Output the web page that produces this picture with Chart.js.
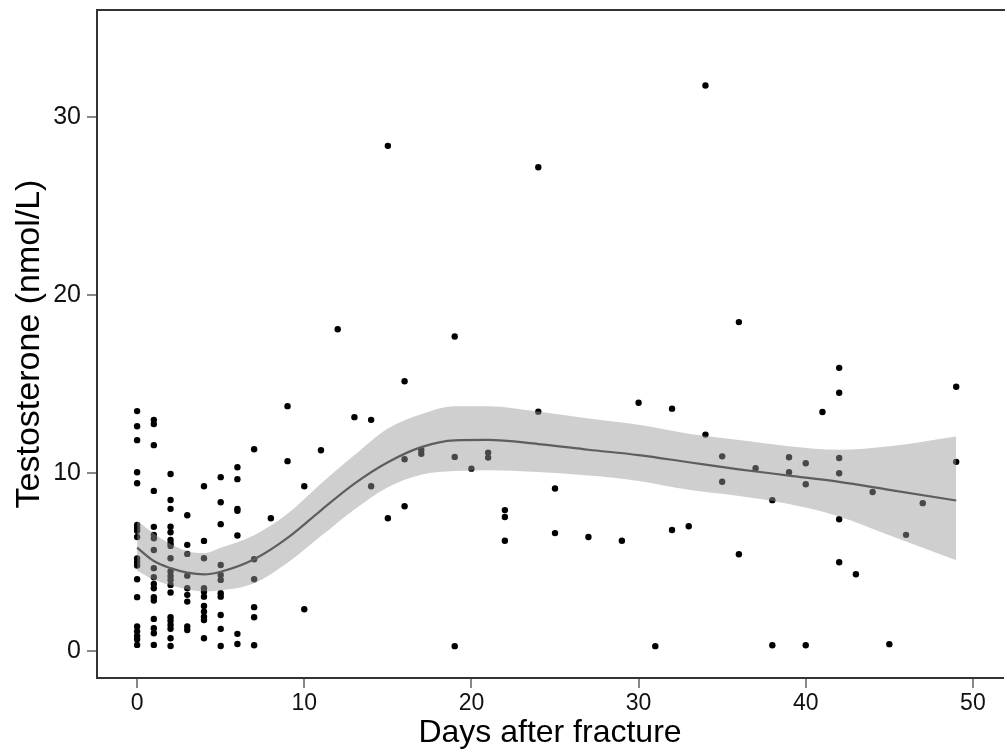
<!DOCTYPE html>
<html>
<head>
<meta charset="utf-8">
<script src="https://cdn.jsdelivr.net/npm/chart.js@4/dist/chart.umd.min.js"></script>
<style>
  html, body { margin: 0; padding: 0; background: #fff; }
  #chart { display: block; }
</style>
</head>
<body>
<canvas id="chart" width="1007" height="753"></canvas>
<script>
'use strict';

// observed values, one list of testosterone levels per day
const days = [0, 1, 2, 3, 4, 5, 6, 7, 8, 9, 10, 11, 12, 13, 14, 15, 16, 17,
  19, 20, 21, 22, 24, 25, 27, 29, 30, 31, 32, 33, 34, 35, 36, 37, 38, 39, 40, 41, 42, 43, 44, 45, 46, 47, 49];
const levels = [
  [13.47, 12.62, 11.84, 10.04, 9.42, 7.08, 6.9, 6.75, 6.4, 5.2, 5.0, 4.8, 4.03, 3.02, 1.37, 1.1, 0.84, 0.65, 0.34],
  [12.98, 12.74, 11.56, 8.99, 6.97, 6.52, 6.33, 5.67, 4.65, 4.14, 3.76, 3.52, 3.02, 2.83, 1.8, 1.28, 0.99, 0.34],
  [9.94, 8.48, 7.98, 6.98, 6.67, 6.24, 6.05, 5.9, 5.21, 4.46, 4.21, 3.99, 3.71, 3.28, 1.89, 1.7, 1.46, 1.24, 0.71, 0.28],
  [7.62, 5.96, 5.45, 4.23, 3.52, 3.15, 2.77, 1.37, 1.18],
  [9.25, 6.18, 5.21, 3.52, 3.33, 3.05, 2.53, 2.21, 1.93, 1.74, 0.71],
  [9.76, 8.35, 7.12, 4.83, 4.27, 3.99, 3.24, 3.05, 2.02, 1.24, 0.28],
  [10.32, 9.65, 7.98, 7.87, 6.48, 0.96, 0.39],
  [11.33, 5.15, 4.03, 2.46, 1.89, 0.32],
  [7.45],
  [13.75, 10.66],
  [9.25, 2.34],
  [11.27],
  [18.07],
  [13.13],
  [12.98, 9.25],
  [28.37, 7.45],
  [15.15, 10.77, 8.13],
  [11.29, 11.07],
  [17.66, 10.9, 0.27],
  [10.24],
  [11.14, 10.86],
  [7.91, 7.52, 6.19],
  [27.17, 13.44],
  [9.12, 6.62],
  [6.4],
  [6.19],
  [13.94],
  [0.27],
  [13.61, 6.79],
  [7.0],
  [31.76, 12.15],
  [10.93, 9.5],
  [18.47, 5.43],
  [10.26],
  [8.47, 0.32],
  [10.88, 10.04],
  [10.54, 9.36, 0.32],
  [13.42],
  [15.9, 14.5, 10.84, 9.98, 7.4, 4.98],
  [4.31],
  [8.93],
  [0.38],
  [6.52],
  [8.3],
  [14.84, 10.62]
];

// smoother and its confidence band
const fitDays  = [0, 1, 2, 3, 4, 5, 7, 9, 11, 13, 15, 17, 19, 21, 24, 27, 30, 33, 36, 39, 42, 45, 49];
const fitLine  = [5.8, 5.05, 4.65, 4.4, 4.3, 4.45, 5.15, 6.35, 7.9, 9.4, 10.6, 11.45, 11.83, 11.85, 11.62, 11.3, 11.0, 10.6, 10.2, 9.85, 9.5, 9.05, 8.45];
const fitUpper = [7.3, 6.6, 6.0, 5.6, 5.5, 5.8, 6.5, 7.7, 9.4, 11.0, 12.5, 13.3, 13.75, 13.75, 13.45, 13.05, 12.7, 12.2, 11.85, 11.5, 11.3, 11.5, 12.05];
const fitLower = [4.5, 4.0, 3.7, 3.45, 3.35, 3.4, 3.8, 4.95, 6.45, 7.95, 9.2, 9.9, 10.1, 10.15, 10.05, 9.85, 9.55, 9.05, 8.7, 8.25, 7.55, 6.5, 5.1];

const xTicks = [0, 10, 20, 30, 40, 50];
const yTicks = [0, 10, 20, 30];

let points = [];
days.forEach(function(d, i){
  levels[i].forEach(function(v){ points.push({x: d, y: v}); });
});
function pairs(ys){ return fitDays.map(function(d, i){ return {x: d, y: ys[i]}; }); }

const FONT = '"Liberation Sans", Arial, sans-serif';

// top edge of the panel box
const frame = {
  id: 'frame',
  afterDraw: function(chart){
    const a = chart.chartArea, ctx = chart.ctx;
    ctx.save();
    ctx.strokeStyle = '#333';
    ctx.lineWidth = 2;
    ctx.beginPath();
    ctx.moveTo(a.left, a.top);
    ctx.lineTo(a.right + 2, a.top);
    ctx.stroke();
    ctx.restore();
  }
};

new Chart(document.getElementById('chart'), {
  type: 'scatter',
  data: {
    datasets: [
      {
        type: 'line', data: pairs(fitLine), order: 1,
        borderColor: '#5e5e5e', borderWidth: 2.2, pointRadius: 0,
        cubicInterpolationMode: 'monotone', fill: false
      },
      {
        type: 'line', data: pairs(fitUpper), order: 2,
        borderWidth: 0, borderColor: 'rgba(0,0,0,0)', pointRadius: 0,
        cubicInterpolationMode: 'monotone',
        backgroundColor: 'rgba(153,153,153,0.47)', fill: '+1'
      },
      {
        type: 'line', data: pairs(fitLower), order: 3,
        borderWidth: 0, borderColor: 'rgba(0,0,0,0)', pointRadius: 0,
        cubicInterpolationMode: 'monotone', fill: false
      },
      {
        data: points, order: 4,
        pointRadius: 3.2, pointBorderWidth: 0,
        backgroundColor: '#000', borderColor: '#000'
      }
    ]
  },
  options: {
    responsive: false,
    animation: false,
    clip: false,
    layout: { padding: { top: 10, left: 0, right: 0, bottom: 0 } },
    plugins: { legend: { display: false }, tooltip: { enabled: false } },
    scales: {
      x: {
        type: 'linear', min: -2.4, max: 51.8,
        afterBuildTicks: function(s){ s.ticks = xTicks.map(function(v){ return {value: v}; }); },
        afterFit: function(s){ s.height = 75; s.paddingLeft = 0; s.paddingRight = 0; },
        grid: { drawOnChartArea: false, color: '#888', lineWidth: 2, tickLength: 10 },
        border: { color: '#333', width: 2 },
        ticks: { color: '#111', padding: 2, font: { family: FONT, size: 23 } },
        title: { display: true, text: 'Days after fracture', color: '#000',
                 padding: { top: 0, bottom: 1 }, font: { family: FONT, size: 32 } }
      },
      y: {
        type: 'linear', min: -1.52, max: 36.0,
        afterBuildTicks: function(s){ s.ticks = yTicks.map(function(v){ return {value: v}; }); },
        afterFit: function(s){ s.width = 97; s.paddingTop = 0; s.paddingBottom = 0; },
        grid: { drawOnChartArea: false, color: '#888', lineWidth: 2, tickLength: 10 },
        border: { color: '#333', width: 2 },
        ticks: { color: '#111', padding: 6, font: { family: FONT, size: 25 } },
        title: { display: true, text: 'Testosterone (nmol/L)', color: '#000',
                 padding: { top: 9, bottom: 0 }, font: { family: FONT, size: 34 } }
      }
    }
  },
  plugins: [frame]
});
</script>
</body>
</html>
